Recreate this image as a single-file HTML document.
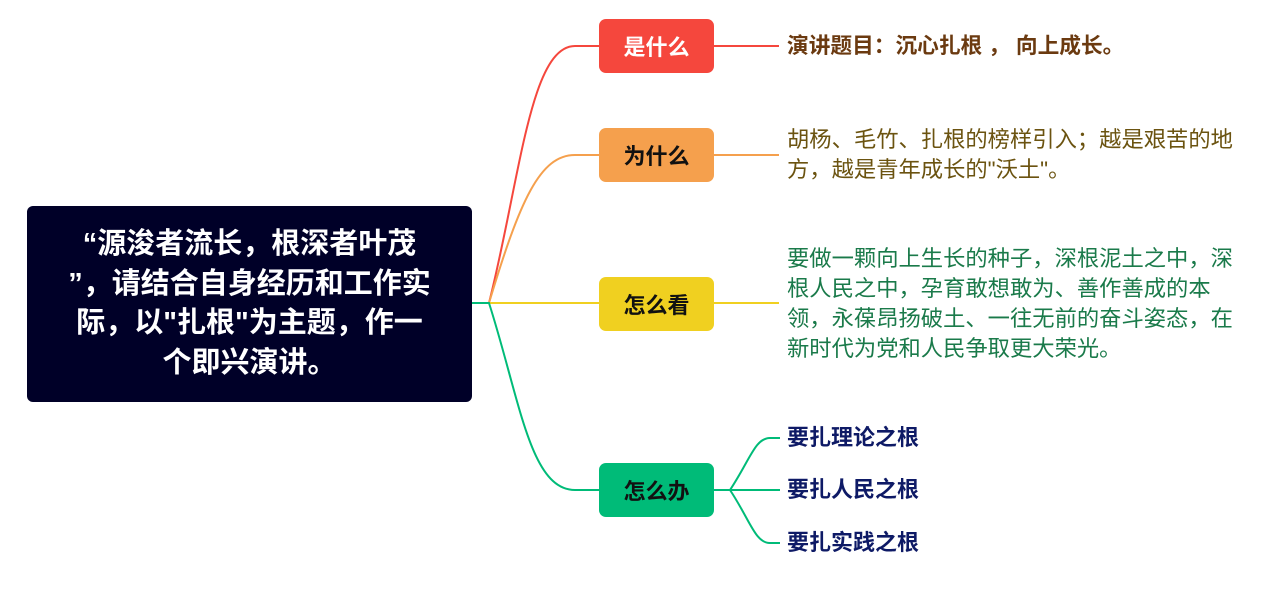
<!DOCTYPE html>
<html><head><meta charset="utf-8"><style>
body{margin:0;width:1287px;height:589px;background:#fff;position:relative;overflow:hidden;font-family:"Liberation Sans","Noto Sans CJK SC",sans-serif;}
.a{position:absolute;}
.root{left:27px;top:206px;width:445px;height:196px;background:#000028;border-radius:6px;color:#fff;font-weight:bold;font-size:29px;line-height:39.5px;display:flex;align-items:center;justify-content:center;text-align:center;white-space:nowrap;}
.n{left:599px;width:115px;height:54px;border-radius:7px;font-weight:bold;font-size:22px;display:flex;align-items:center;justify-content:center;}
.t{left:787px;font-size:22.3px;line-height:30px;white-space:nowrap;}
</style></head><body>
<svg class="a" style="left:0;top:0" width="1287" height="589">
<g fill="none" stroke-width="2">
<path d="M489 303 C520 180,530 46,575 46 L599 46 M714 46 L779 46" stroke="#f5473d"/>
<path d="M489 303 C520 200,540 155,575 155 L599 155 M714 155 L779 155" stroke="#f5a04d"/>
<path d="M472 303 L599 303 M714 303 L779 303" stroke="#f0d020"/>
<path d="M472 303 L489 303 C520 400,530 490,575 490 L599 490" stroke="#00bb78"/>
<path d="M714 490 L730 490 M730 490 C750 460,755 438,770 438 L780 438 M730 490 L780 490 M730 490 C750 520,755 543,770 543 L780 543" stroke="#00bb78"/>
</g></svg>
<div class="a root"><div>“源浚者流长，根深者叶茂<br>”，请结合自身经历和工作实<br>际，以"扎根"为主题，作一<br>个即兴演讲。</div></div>
<div class="a n" style="top:19px;background:#f5473d;color:#fff">是什么</div>
<div class="a n" style="top:128px;background:#f5a04d;color:#111">为什么</div>
<div class="a n" style="top:277px;background:#f0d020;color:#111">怎么看</div>
<div class="a n" style="top:463px;background:#00bb78;color:#111">怎么办</div>
<div class="a t" style="top:31px;color:#6b3a10;font-weight:bold;font-size:21.7px">演讲题目：沉心扎根 ， 向上成长。</div>
<div class="a t" style="top:125px;color:#6b5310">胡杨、毛竹、扎根的榜样引入；越是艰苦的地<br>方，越是青年成长的"沃土"。</div>
<div class="a t" style="top:244px;color:#1a7a4a">要做一颗向上生长的种子，深根泥土之中，深<br>根人民之中，孕育敢想敢为、善作善成的本<br>领，永葆昂扬破土、一往无前的奋斗姿态，在<br>新时代为党和人民争取更大荣光。</div>
<div class="a t" style="top:423px;color:#0e1a66;font-weight:bold;font-size:22px">要扎理论之根</div>
<div class="a t" style="top:475px;color:#0e1a66;font-weight:bold;font-size:22px">要扎人民之根</div>
<div class="a t" style="top:528px;color:#0e1a66;font-weight:bold;font-size:22px">要扎实践之根</div>
</body></html>
